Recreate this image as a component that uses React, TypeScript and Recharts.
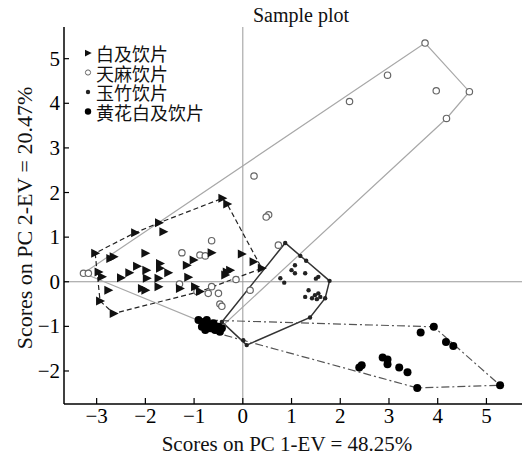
import React from "react";
import { ScatterChart, Scatter, XAxis, YAxis, ReferenceLine } from "recharts";

// group names (legend)
const groupNames = ["白及饮片", "天麻饮片", "玉竹饮片", "黄花白及饮片"];

// PC1 / PC2 scores
const baiji: [number, number][] = [
  [-0.42, 1.87], [-0.32, 1.74], [-1.72, 1.32], [-1.63, 1.12], [-2.21, 1.1], [-3.03, 0.64],
  [-2.72, 0.52], [-2.65, 0.56], [-2.0, 0.64], [-2.96, 0.22], [-2.89, 0.11], [-2.5, 0.09],
  [-2.33, 0.2], [-2.17, 0.35], [-1.98, 0.26], [-1.97, 0.08], [-1.7, 0.41], [-1.7, 0.3],
  [-1.73, 0.08], [-1.53, 0.2], [-1.15, 0.37], [-1.01, 0.49], [-1.12, 0.1], [-0.64, 0.65],
  [-0.02, 0.62], [0.22, 0.45], [0.39, 0.3], [-0.26, 0.26], [-0.33, 0.22], [-0.36, 0.15],
  [-2.76, -0.19], [-2.07, -0.15], [-2.0, -0.19], [-1.73, -0.11], [-1.29, -0.15],
  [-0.98, -0.11], [-0.88, -0.22], [-2.93, -0.43], [-2.65, -0.71],
];
const tianma: [number, number][] = [
  [-3.27, 0.19], [-3.17, 0.19], [-1.25, 0.65], [-0.88, 0.6], [-0.77, 0.58], [-0.64, 0.92],
  [0.23, 2.37], [0.53, 1.5], [0.48, 1.45], [0.73, 0.82], [-0.14, 0.05], [0.15, -0.19],
  [-1.3, -0.05], [-0.64, -0.11], [-0.71, -0.26], [-0.5, -0.26], [-0.47, -0.5], [-0.43, -0.55],
  [-0.94, -0.22], [-0.53, -1.04], [-0.43, -1.0], [2.19, 4.04], [2.97, 4.63], [3.74, 5.35],
  [3.97, 4.28], [4.65, 4.26], [4.18, 3.66],
];
const yuzhu: [number, number][] = [
  [0.87, 0.87], [1.18, 0.58], [1.3, 0.47], [1.07, 0.37], [1.0, 0.26], [1.07, 0.19], [1.28, 0.19],
  [0.77, 0.08], [0.85, -0.02], [1.55, 0.11], [1.5, 0.07], [1.78, 0.02], [1.35, -0.19],
  [1.28, -0.34], [1.42, -0.37], [1.48, -0.3], [1.55, -0.26], [1.59, -0.34], [1.52, -0.39],
  [1.69, -0.37], [1.38, -0.8], [0.08, -1.42], [0.01, -1.31], [-0.43, -0.9],
];
const huanghua: [number, number][] = [
  [-0.91, -0.86], [-0.81, -0.9], [-0.74, -0.86], [-0.84, -1.01], [-0.77, -1.08], [-0.67, -1.04],
  [-0.57, -1.08], [-0.5, -1.01], [-0.6, -0.93], [-0.43, -1.04], [-0.47, -1.12], [-0.7, -0.95],
  [3.92, -1.01], [3.65, -1.14], [4.17, -1.35], [4.32, -1.44], [5.28, -2.32], [3.58, -2.38],
  [2.44, -1.87], [2.39, -1.92], [2.87, -1.7], [2.97, -1.74], [2.97, -1.85], [3.21, -1.92],
  [3.38, -2.03],
];

const xTicks = [-3, -2, -1, 0, 1, 2, 3, 4, 5];
const yTicks = [-2, -1, 0, 1, 2, 3, 4, 5];

const PLOT_LEFT = 64;
const PLOT_BOTTOM = 404;
const SERIF = "'Liberation Serif', 'Times New Roman', serif";
const CJK = "'Noto Sans CJK SC', sans-serif";

const toPts = (arr: [number, number][]) => arr.map(([x, y]) => ({ x, y }));

// convex hull (monotone chain), closed
function hull(arr: [number, number][]) {
  const p = [...arr].sort((a, b) => a[0] - b[0] || a[1] - b[1]);
  const cross = (o: number[], a: number[], b: number[]) =>
    (a[0] - o[0]) * (b[1] - o[1]) - (a[1] - o[1]) * (b[0] - o[0]);
  const lower: [number, number][] = [];
  for (const q of p) {
    while (lower.length >= 2 && cross(lower[lower.length - 2], lower[lower.length - 1], q) <= 0) lower.pop();
    lower.push(q);
  }
  const upper: [number, number][] = [];
  for (let i = p.length - 1; i >= 0; i--) {
    const q = p[i];
    while (upper.length >= 2 && cross(upper[upper.length - 2], upper[upper.length - 1], q) <= 0) upper.pop();
    upper.push(q);
  }
  const h = lower.slice(0, -1).concat(upper.slice(0, -1));
  h.push(h[0]);
  return toPts(h);
}

const fmt = (v: number) => (v < 0 ? "\u2212" + Math.abs(v) : String(v));

const Tri = ({ cx, cy, s = 1 }: any) => (
  <path d={`M${cx - 4 * s},${cy - 4.5 * s}L${cx + 5 * s},${cy}L${cx - 4 * s},${cy + 4.5 * s}Z`} fill="#111" />
);
const Ring = ({ cx, cy }: any) => <circle cx={cx} cy={cy} r={3.2} fill="#fff" stroke="#666" strokeWidth={1.2} />;
const SmallDot = ({ cx, cy }: any) => <circle cx={cx} cy={cy} r={2.2} fill="#222" />;
const BigDot = ({ cx, cy }: any) => <circle cx={cx} cy={cy} r={4} fill="#000" />;
const Nothing = () => <g />;

const XTick = ({ x, payload }: any) => (
  <g>
    <line x1={x} x2={x} y1={PLOT_BOTTOM} y2={PLOT_BOTTOM - 6} stroke="#000" strokeWidth={1.2} />
    <text x={x} y={PLOT_BOTTOM + 19} textAnchor="middle" fontFamily={SERIF} fontSize={21} fill="#000">
      {fmt(payload.value)}
    </text>
  </g>
);
const YTick = ({ y, payload }: any) => (
  <g>
    <line x1={PLOT_LEFT} x2={PLOT_LEFT + 5} y1={y} y2={y} stroke="#000" strokeWidth={1.2} />
    <text x={PLOT_LEFT - 4} y={y + 7} textAnchor="end" fontFamily={SERIF} fontSize={21} fill="#000">
      {fmt(payload.value)}
    </text>
  </g>
);

const markers = [
  (cx: number, cy: number) => <Tri cx={cx} cy={cy} s={0.75} />,
  (cx: number, cy: number) => <circle cx={cx} cy={cy} r={2.6} fill="#fff" stroke="#666" strokeWidth={1} />,
  (cx: number, cy: number) => <circle cx={cx} cy={cy} r={2.2} fill="#222" />,
  (cx: number, cy: number) => <circle cx={cx} cy={cy} r={3.2} fill="#000" />,
];
const LEGEND_X = 88;
const LEGEND_Y = 53;
const LEGEND_STEP = 19.5;

export default function App() {
  return (
    <div style={{ position: "absolute", left: 0, top: 0, background: "#fff" }}>
      <ScatterChart width={522} height={453} margin={{ top: 27, right: 0, bottom: 0, left: 20 }}>
        <XAxis
          type="number"
          dataKey="x"
          domain={[-3.67, 5.73]}
          ticks={xTicks}
          allowDataOverflow
          height={49}
          tickLine={false}
          tickSize={0}
          tick={<XTick />}
          axisLine={{ stroke: "#000", strokeWidth: 1.5 }}
        />
        <YAxis
          type="number"
          dataKey="y"
          domain={[-2.74, 5.71]}
          ticks={yTicks}
          allowDataOverflow
          width={44}
          tickLine={false}
          tickSize={0}
          tick={<YTick />}
          axisLine={{ stroke: "#000", strokeWidth: 1.5 }}
        />
        <ReferenceLine x={0} stroke="#999" strokeWidth={1} />
        <ReferenceLine y={0} stroke="#999" strokeWidth={1} />

        <Scatter data={hull(tianma)} shape={Nothing} line={{ stroke: "#a8a8a8", strokeWidth: 1.2 }} lineType="joint" isAnimationActive={false} legendType="none" />
        <Scatter data={hull(baiji)} shape={Nothing} line={{ stroke: "#222", strokeWidth: 1.2, strokeDasharray: "5 3" }} lineType="joint" isAnimationActive={false} legendType="none" />
        <Scatter data={hull(yuzhu)} shape={Nothing} line={{ stroke: "#333", strokeWidth: 1.5 }} lineType="joint" isAnimationActive={false} legendType="none" />
        <Scatter data={hull(huanghua)} shape={Nothing} line={{ stroke: "#555", strokeWidth: 1.2, strokeDasharray: "8 3 2 3" }} lineType="joint" isAnimationActive={false} legendType="none" />

        <Scatter name={groupNames[1]} data={toPts(tianma)} shape={Ring} isAnimationActive={false} />
        <Scatter name={groupNames[0]} data={toPts(baiji)} shape={Tri} isAnimationActive={false} />
        <Scatter name={groupNames[2]} data={toPts(yuzhu)} shape={SmallDot} isAnimationActive={false} />
        <Scatter name={groupNames[3]} data={toPts(huanghua)} shape={BigDot} isAnimationActive={false} />

        <g>
          {groupNames.map((n, i) => (
            <g key={n}>
              {markers[i](LEGEND_X, LEGEND_Y + i * LEGEND_STEP)}
              <text
                x={LEGEND_X + 8}
                y={LEGEND_Y + i * LEGEND_STEP}
                dominantBaseline="central"
                fontFamily={CJK}
                fontSize={18}
                fill="#111"
              >
                {n}
              </text>
            </g>
          ))}
        </g>

        <text x={301} y={22} textAnchor="middle" fontFamily={SERIF} fontSize={20} fill="#111">
          Sample plot
        </text>
        <text x={287} y={451} textAnchor="middle" fontFamily={SERIF} fontSize={21} fill="#111">
          Scores on PC 1-EV = 48.25%
        </text>
        <text
          x={24}
          y={218}
          transform="rotate(-90 24 218)"
          textAnchor="middle"
          dominantBaseline="central"
          fontFamily={SERIF}
          fontSize={22}
          fill="#111"
        >
          Scores on PC 2-EV = 20.47%
        </text>
      </ScatterChart>
    </div>
  );
}
